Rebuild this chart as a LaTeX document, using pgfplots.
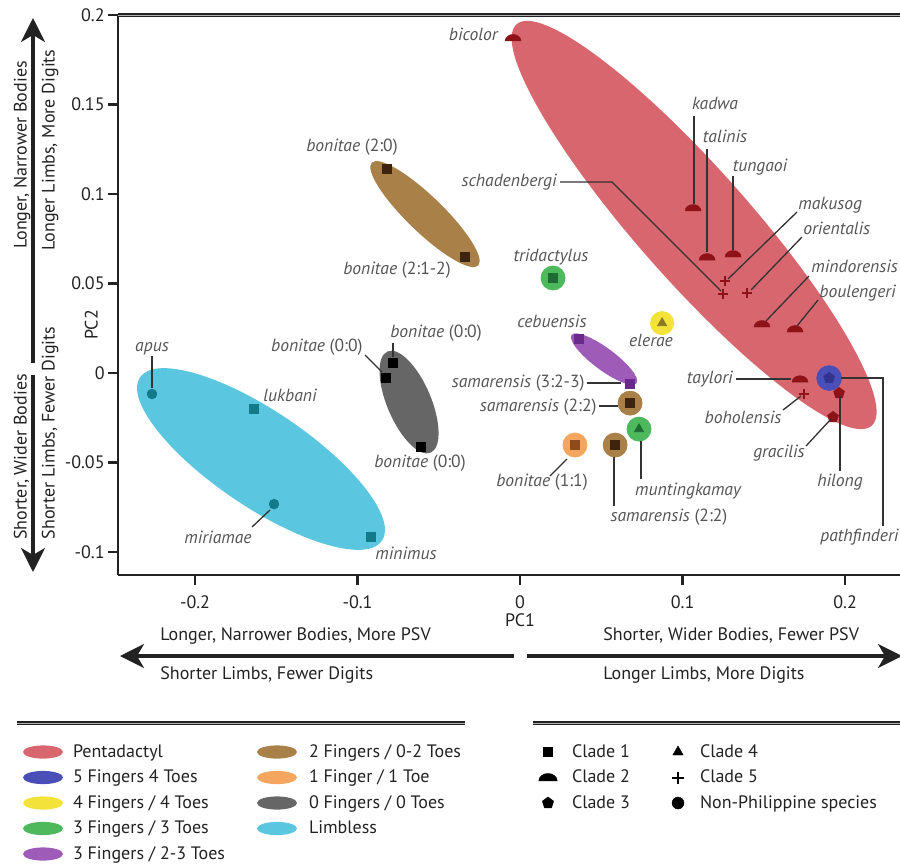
\documentclass[border=0pt]{standalone}
\usepackage{pgfplots}
\pgfplotsset{compat=1.18}
\usepackage{fontspec}
\setmainfont{PT Sans}
\setsansfont{PT Sans}
\usetikzlibrary{shapes.geometric,arrows.meta,plotmarks}

\definecolor{cRed}{HTML}{D8666E}
\definecolor{cRedM}{HTML}{8E1218}
\definecolor{cBlue}{HTML}{4A4FB8}
\definecolor{cBlueM}{HTML}{33338F}
\definecolor{cYel}{HTML}{F3E23A}
\definecolor{cYelM}{HTML}{8A7A24}
\definecolor{cGreen}{HTML}{4DB85C}
\definecolor{cGreenM}{HTML}{1D6A33}
\definecolor{cPurp}{HTML}{9E5CB8}
\definecolor{cPurpM}{HTML}{6A2A8C}
\definecolor{cBrown}{HTML}{A88048}
\definecolor{cBrownM}{HTML}{3C2410}
\definecolor{cOrange}{HTML}{F4A55E}
\definecolor{cOrangeM}{HTML}{8E4A1C}
\definecolor{cGray}{HTML}{666666}
\definecolor{cCyan}{HTML}{5BC6E0}
\definecolor{cCyanM}{HTML}{137A8A}
\definecolor{cLab}{HTML}{555555}
\definecolor{cTxt}{HTML}{222222}
\definecolor{cLine}{HTML}{333333}

\pgfdeclareplotmark{dome}{%
  \pgfpathmoveto{\pgfqpoint{-1.6\pgfplotmarksize}{-0.6\pgfplotmarksize}}%
  \pgfpatharc{180}{0}{1.6\pgfplotmarksize and 1.3\pgfplotmarksize}%
  \pgfpathclose
  \pgfusepathqfillstroke}

\newcommand\legfont{\fontsize{9}{10}\selectfont}

\tikzset{
  lbl/.style={font=\fontsize{8.8}{10}\selectfont\itshape, text=cLab, inner sep=0pt, text height=6.2pt, text depth=1.9pt},
  ldr/.style={cLine, line width=0.65pt},
  side/.style={font=\fontsize{9}{10}\selectfont, text=cTxt, inner sep=0pt, text height=6.5pt, text depth=1.8pt},
  bigarrow/.style={line width=1.6pt, cTxt, -{Stealth[length=12pt,width=12pt,inset=3.5pt]}},
  sep/.style={line width=0.6pt, cTxt, double=gray!60, double distance=0.5pt},
}

\begin{document}
\begin{tikzpicture}
\path[use as bounding box] (0pt,0pt) rectangle (450pt,-431.5pt);

\begin{axis}[
  at={(59pt,-287.5pt)}, anchor=south west,
  scale only axis, width=391pt, height=280pt,
  xmin=-0.2474, xmax=0.2338, ymin=-0.1128, ymax=0.2,
  axis x line*=bottom, axis y line*=left,
  axis line style={line width=1.2pt, -, cTxt},
  xtick={-0.2,-0.1,0,0.1,0.2},
  xticklabels={-0.2,-0.1,0,0.1,0.2},
  ytick={-0.1,-0.05,0,0.05,0.1,0.15,0.2},
  yticklabels={-0.1,-0.05,0,0.05,0.1,0.15,0.2},
  tick style={line width=1.2pt, cTxt},
  major tick length=5pt,
  tick align=outside,
  xticklabel style={font=\fontsize{9}{10}\selectfont, text=cTxt, yshift=-2pt},
  yticklabel style={font=\fontsize{9}{10}\selectfont, text=cTxt, inner sep=1.5pt},
  clip=false,
]
% group ellipses
\node[ellipse, fill=cRed, minimum width=268pt, minimum height=56pt, inner sep=0pt, rotate=-48.5] at (axis cs:0.1071,0.0827) {};
\node[ellipse, fill=cBrown, minimum width=74pt, minimum height=18pt, inner sep=0pt, rotate=-44] at (axis cs:-0.0585,0.0888) {};
\node[ellipse, fill=cGray, minimum width=55pt, minimum height=22pt, inner sep=0pt, rotate=-67] at (axis cs:-0.0683,-0.0162) {};
\node[ellipse, fill=cCyan, minimum width=146pt, minimum height=48pt, inner sep=0pt, rotate=-34] at (axis cs:-0.1594,-0.0480) {};
\node[ellipse, fill=cPurp, minimum width=40.5pt, minimum height=11pt, inner sep=0pt, rotate=-36.6] at (axis cs:0.0517,0.0078) {};

% single-species halos
\addplot[only marks, mark=*, color=cBlue, mark size=6.2pt] coordinates {(0.1902,-0.0028)};
\addplot[only marks, mark=*, color=cYel, mark size=5.8pt] coordinates {(0.0874,0.0279)};
\addplot[only marks, mark=*, color=cGreen, mark size=6pt] coordinates {(0.0203,0.0531) (0.0732,-0.0313)};
\addplot[only marks, mark=*, color=cBrown, mark size=6pt] coordinates {(0.0677,-0.0168) (0.0585,-0.0402)};
\addplot[only marks, mark=*, color=cOrange, mark size=6pt] coordinates {(0.0338,-0.0402)};

% Clade 2
\addplot[only marks, mark=dome, mark size=2.5pt, color=cRedM, mark options={line width=0.2pt}] coordinates {
(-0.0043,0.1872) (0.1065,0.0922) (0.1151,0.0648) (0.1311,0.0665) (0.1489,0.0274) (0.1692,0.0246) (0.1723,-0.0034)};
% Clade 5
\addplot[only marks, mark=+, mark size=2.6pt, color=cRedM, mark options={line width=0.9pt}] coordinates {
(0.1262,0.0514) (0.1249,0.0441) (0.1397,0.0447) (0.1748,-0.0117)};
% Clade 3
\addplot[only marks, mark=pentagon*, mark size=2.8pt, color=cRedM] coordinates {(0.1963,-0.0112) (0.1926,-0.0246)};
\addplot[only marks, mark=pentagon*, mark size=2.8pt, color=cBlueM] coordinates {(0.1902,-0.0028)};
% Clade 4
\addplot[only marks, mark=triangle*, mark size=2.6pt, color=cYelM] coordinates {(0.0874,0.0279)};
\addplot[only marks, mark=triangle*, mark size=2.6pt, color=cGreenM] coordinates {(0.0732,-0.0313)};
% Clade 1
\addplot[only marks, mark=square*, mark size=2.2pt, color=cGreenM] coordinates {(0.0203,0.0531)};
\addplot[only marks, mark=square*, mark size=2.2pt, color=cPurpM] coordinates {(0.0363,0.0190) (0.0677,-0.0061)};
\addplot[only marks, mark=square*, mark size=2.2pt, color=cBrownM] coordinates {(0.0677,-0.0168) (0.0585,-0.0402) (-0.0818,0.1140) (-0.0338,0.0648)};
\addplot[only marks, mark=square*, mark size=2.2pt, color=cOrangeM] coordinates {(0.0338,-0.0402)};
\addplot[only marks, mark=square*, mark size=2.2pt, color=black] coordinates {(-0.0782,0.0056) (-0.0825,-0.0028) (-0.0609,-0.0413)};
\addplot[only marks, mark=square*, mark size=2.2pt, color=cCyanM] coordinates {(-0.1637,-0.0201) (-0.0917,-0.0916)};
% Non-Philippine
\addplot[only marks, mark=*, mark size=2.4pt, color=cCyanM] coordinates {(-0.2265,-0.0117) (-0.1514,-0.0732)};
\end{axis}

\begin{scope}[x=0.5pt,y=-0.5pt]
% top frame line
\draw[sep] (118,15) -- (902,15);
% leader lines
\draw[ldr] (560,182) -- (612,182) -- (721,291);
\draw[ldr] (694,116) -- (694,204);
\draw[ldr] (707,149) -- (707,252);
\draw[ldr] (733,176) -- (733,250);
\draw[ldr] (797,212) -- (728,279);
\draw[ldr] (802,237) -- (751,290);
\draw[ldr] (809,276) -- (766,321);
\draw[ldr] (818,300) -- (797,326);
\draw[ldr] (736,379) -- (791,379);
\draw[ldr] (783,410) -- (801,396);
\draw[ldr] (806,446) -- (831,419);
\draw[ldr] (840,396) -- (840,471);
\draw[ldr] (841,378) -- (883,378) -- (883,526);
\draw[ldr] (587,383) -- (621,383);
\draw[ldr] (599,406) -- (618,406);
\draw[ldr] (550,476) -- (567,459);
\draw[ldr] (641,441) -- (641,479);
\draw[ldr] (614,457) -- (614,506);
\draw[ldr] (393,343) -- (393,357);
\draw[ldr] (365,355) -- (382,372);
\draw[ldr] (152,356) -- (152,388);
\draw[ldr] (252,527) -- (270,510);

% species labels
\node[lbl, anchor=east] at (498,36) {bicolor};
\node[lbl] at (352,147) {bonitae \upshape(2:0)};
\node[lbl] at (397,270) {bonitae \upshape(2:1-2)};
\node[lbl, anchor=east] at (557,182) {schadenbergi};
\node[lbl] at (551,257) {tridactylus};
\node[lbl] at (715,105) {kadwa};
\node[lbl] at (725,138) {talinis};
\node[lbl] at (760,167) {tungaoi};
\node[lbl, anchor=west] at (798,205) {makusog};
\node[lbl, anchor=west] at (803,230) {orientalis};
\node[lbl, anchor=west] at (811,268) {mindorensis};
\node[lbl, anchor=west] at (819,293) {boulengeri};
\node[lbl, anchor=east] at (733,379) {taylori};
\node[lbl] at (743,419) {boholensis};
\node[lbl] at (779,453) {gracilis};
\node[lbl] at (840,482) {hilong};
\node[lbl, anchor=west] at (820,537) {pathfinderi};
\node[lbl] at (651,342) {elerae};
\node[lbl] at (552,323) {cebuensis};
\node[lbl, anchor=east] at (585,383) {samarensis \upshape(3:2-3)};
\node[lbl, anchor=east] at (597,407) {samarensis \upshape(2:2)};
\node[lbl] at (542,482) {bonitae \upshape(1:1)};
\node[lbl] at (688,491) {muntingkamay};
\node[lbl] at (669,517) {samarensis \upshape(2:2)};
\node[lbl] at (436,333) {bonitae \upshape(0:0)};
\node[lbl, anchor=east] at (363,347) {bonitae \upshape(0:0)};
\node[lbl] at (420,463) {bonitae \upshape(0:0)};
\node[lbl] at (152,347) {apus};
\node[lbl] at (290,397) {lukbani};
\node[lbl] at (218,539) {miriamae};
\node[lbl] at (406,555) {minimus};

% axis titles
\node[side, rotate=90] at (93,325) {PC2};
\node[side] at (520,622) {PC1};

% vertical interpretation arrows
\draw[bigarrow] (33,363) -- (33,18);
\draw[bigarrow] (33,375) -- (33,572);
\node[side, rotate=90] at (22,155) {Longer, Narrower Bodies};
\node[side, rotate=90] at (50,150) {Longer Limbs, More Digits};
\node[side, rotate=90] at (22,457) {Shorter, Wider Bodies};
\node[side, rotate=90] at (50,433) {Shorter Limbs, Fewer Digits};

% horizontal interpretation arrows
\draw[bigarrow] (514,656) -- (120,656);
\draw[bigarrow] (527,656) -- (902,656);
\node[side, anchor=west] at (160,636) {Longer, Narrower Bodies, More PSV};
\node[side, anchor=west] at (160,675) {Shorter Limbs, Fewer Digits};
\node[side, anchor=west] at (603,636) {Shorter, Wider Bodies, Fewer PSV};
\node[side, anchor=west] at (603,675) {Longer Limbs, More Digits};

% legend separators
\draw[sep] (17,723) -- (465,723);
\draw[sep] (533,723) -- (902,723);
\end{scope}

% ---- legends (hidden axes) ----
\pgfplotsset{legstyle/.style={hide axis, scale only axis, width=1pt, height=1pt,
  xmin=0, xmax=1, ymin=0, ymax=1, anchor=south west, legend cell align=left,
  legend style={at={(0,0)}, anchor=north west, draw=none, fill=none, inner sep=0pt, outer sep=0pt,
    row sep=3.75pt, font=\legfont, text=cTxt,
    nodes={inner sep=0pt, text height=7pt, text depth=2pt}}}}
\newcommand\swatch[1]{\addlegendimage{legend image code/.code={\fill[#1, draw=none] (10pt,0pt) ellipse [x radius=10pt, y radius=3.3pt]; \path[draw=none, fill=none] (0pt,-4.5pt) rectangle (20pt,4.5pt);}}}
\newcommand\clade[3]{\addlegendimage{legend image code/.code={\draw[black, fill=black, mark size=#2, line width=#3] plot[mark=#1] coordinates {(5pt,0pt)}; \path[draw=none, fill=none] (0pt,-4.5pt) rectangle (10pt,4.5pt);}}}

\begin{axis}[legstyle, at={(11.5pt,-371.5pt)}, legend style={/tikz/every odd column/.append style={column sep=5pt}}]
\swatch{cRed}\addlegendentry{Pentadactyl}
\swatch{cBlue}\addlegendentry{5 Fingers 4 Toes}
\swatch{cYel}\addlegendentry{4 Fingers / 4 Toes}
\swatch{cGreen}\addlegendentry{3 Fingers / 3 Toes}
\swatch{cPurp}\addlegendentry{3 Fingers / 2-3 Toes}
\end{axis}
\begin{axis}[legstyle, at={(128.5pt,-371.5pt)}, legend style={/tikz/every odd column/.append style={column sep=6pt}}]
\swatch{cBrown}\addlegendentry{2 Fingers / 0-2 Toes}
\swatch{cOrange}\addlegendentry{1 Finger / 1 Toe}
\swatch{cGray}\addlegendentry{0 Fingers / 0 Toes}
\swatch{cCyan}\addlegendentry{Limbless}
\end{axis}
\begin{axis}[legstyle, at={(269pt,-371.5pt)}, legend style={/tikz/every odd column/.append style={column sep=7pt}}]
\clade{square*}{2.3pt}{0.2pt}\addlegendentry{Clade 1}
\clade{dome}{2.9pt}{0.2pt}\addlegendentry{Clade 2}
\clade{pentagon*}{3pt}{0.2pt}\addlegendentry{Clade 3}
\end{axis}
\begin{axis}[legstyle, at={(334pt,-371.5pt)}, legend style={/tikz/every odd column/.append style={column sep=6pt}}]
\clade{triangle*}{3pt}{0.2pt}\addlegendentry{Clade 4}
\clade{+}{3pt}{1pt}\addlegendentry{Clade 5}
\clade{*}{3pt}{0.2pt}\addlegendentry{Non-Philippine species}
\end{axis}
\end{tikzpicture}
\end{document}
